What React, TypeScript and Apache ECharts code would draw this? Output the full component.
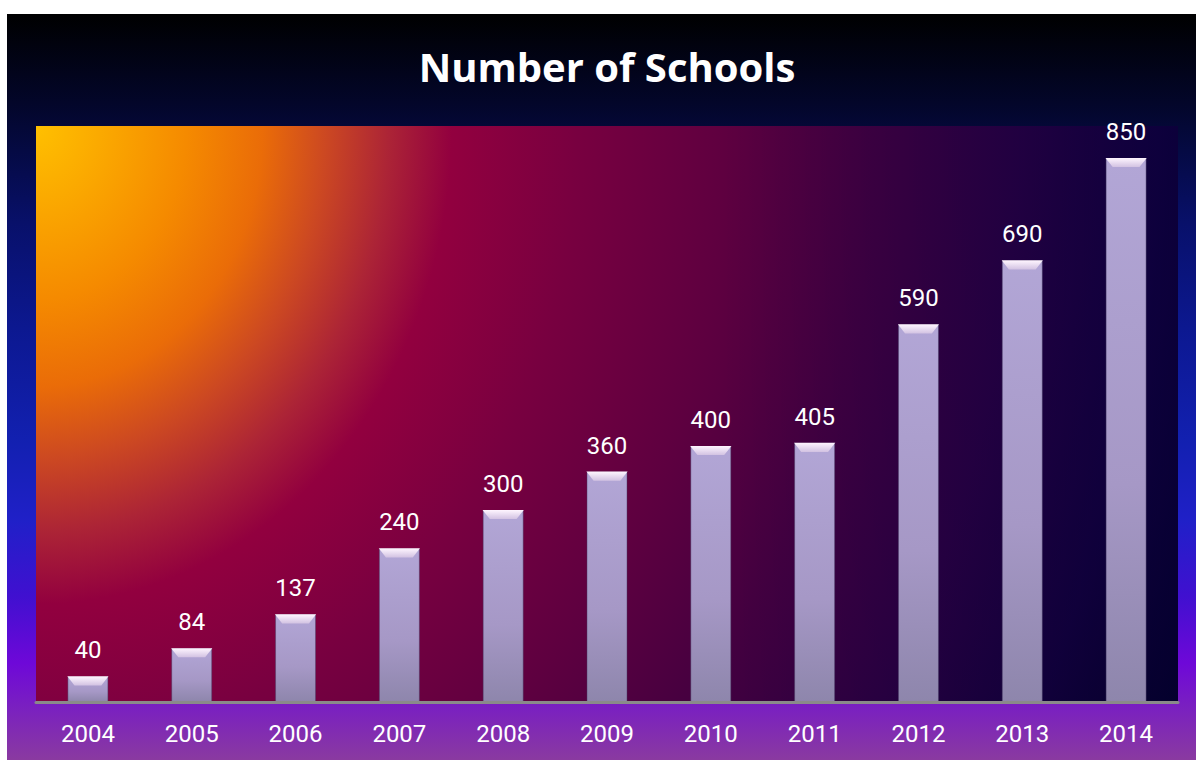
import React, { useEffect, useRef } from "react";
import * as echarts from "echarts";

const years = ["2004", "2005", "2006", "2007", "2008", "2009", "2010", "2011", "2012", "2013", "2014"];
const schools = [40, 84, 137, 240, 300, 360, 400, 405, 590, 690, 850];
const yMax = 900;
const titleText = "Number of Schools";

export default function App() {
  const ref = useRef<HTMLDivElement>(null);
  useEffect(() => {
    if (!ref.current) return;
    const chart = echarts.init(ref.current, null, { renderer: "svg" });
    const gridL = 36, gridT = 126, gridW = 1142, gridH = 576;
    const sy = 1.15;
    const barW = 41;
    chart.setOption({
      animation: false,
      backgroundColor: "#ffffff",
      graphic: [
        {
          type: "rect",
          z: -10,
          silent: true,
          shape: { x: 7, y: 14, width: 1189, height: 746 },
          style: {
            fill: new echarts.graphic.LinearGradient(0, 0, 0, 1, [
              { offset: 0, color: "#000000" },
              { offset: 0.12, color: "#03062a" },
              { offset: 0.28, color: "#08106a" },
              { offset: 0.42, color: "#0c1890" },
              { offset: 0.57, color: "#1220b0" },
              { offset: 0.68, color: "#2020c8" },
              { offset: 0.78, color: "#4010d0" },
              { offset: 0.87, color: "#6e08d8" },
              { offset: 0.93, color: "#7a20c0" },
              { offset: 1, color: "#8a3aa0" },
            ]),
          },
        },
        {
          type: "rect",
          z: -5,
          silent: true,
          x: gridL,
          y: gridT,
          scaleY: sy,
          shape: { x: 0, y: 0, width: gridW, height: gridH / sy },
          style: {
            fill: {
              type: "radial",
              global: true,
              x: 0,
              y: 0,
              r: 1260,
              colorStops: [
                { offset: 0, color: "#ffc000" },
                { offset: 0.05, color: "#fbaa00" },
                { offset: 0.12, color: "#f58a00" },
                { offset: 0.18, color: "#ea6c08" },
                { offset: 0.23, color: "#cc4822" },
                { offset: 0.28, color: "#ac2436" },
                { offset: 0.33, color: "#92003f" },
                { offset: 0.43, color: "#780040" },
                { offset: 0.55, color: "#5e0040" },
                { offset: 0.66, color: "#440040" },
                { offset: 0.78, color: "#2e0040" },
                { offset: 0.89, color: "#180036" },
                { offset: 1, color: "#050015" },
              ],
            },
          },
        },
        {
          type: "rect",
          z: -4,
          silent: true,
          shape: { x: gridL, y: gridT, width: gridW, height: gridH },
          style: {
            fill: new echarts.graphic.LinearGradient(0, 0, 1, 0, [
              { offset: 0, color: "rgba(0,0,60,0)" },
              { offset: 0.6, color: "rgba(0,0,60,0)" },
              { offset: 1, color: "rgba(0,0,70,0.45)" },
            ]),
          },
        },
        {
          type: "text",
          z: 10,
          x: 607,
          y: 66,
          style: {
            text: titleText,
            fill: "#ffffff",
            font: "bold 40px 'Open Sans', sans-serif",
            textAlign: "center",
            textVerticalAlign: "middle",
          },
        },
      ],
      grid: {
        left: gridL,
        top: gridT,
        width: gridW,
        height: gridH,
        show: false,
      },
      xAxis: {
        type: "category",
        data: years,
        axisLine: { show: true, lineStyle: { color: "#8a8a8a", width: 3 } },
        axisTick: { show: false },
        axisLabel: {
          color: "#ffffff",
          fontFamily: "Roboto",
          fontSize: 24,
          fontWeight: 400,
          margin: 20,
        },
        z: 5,
      },
      yAxis: {
        type: "value",
        min: 0,
        max: yMax,
        show: false,
        splitLine: { show: false },
      },
      series: [
        {
          type: "bar",
          data: schools,
          barWidth: barW,
          barGap: "-100%",
          z: 3,
          itemStyle: {
            color: new echarts.graphic.LinearGradient(0, 0, 0, 1, [
              { offset: 0, color: "#b2a6d6" },
              { offset: 0.6, color: "#a698c6" },
              { offset: 1, color: "#8e86ac" },
            ]),
            borderColor: "rgba(70,60,100,0.45)",
            borderWidth: 1,
          },
          label: {
            show: true,
            position: "top",
            distance: 14,
            color: "#ffffff",
            fontFamily: "Roboto",
            fontSize: 24,
            fontWeight: 400,
          },
        },
        {
          type: "pictorialBar",
          data: schools,
          barWidth: barW,
          barGap: "-100%",
          z: 4,
          symbol: "path://M0,0 L40,0 L33,9 L7,9 Z",
          symbolSize: [barW, 9],
          symbolPosition: "end",
          itemStyle: {
            color: new echarts.graphic.LinearGradient(0, 0, 0, 1, [
              { offset: 0, color: "#fff6ff" },
              { offset: 1, color: "#d2c2e2" },
            ]),
          },
          silent: true,
        },
      ],
    });
    return () => chart.dispose();
  }, []);
  return (
    <div
      ref={ref}
      style={{ position: "absolute", left: 0, top: 0, width: 1196, height: 760 }}
    />
  );
}
